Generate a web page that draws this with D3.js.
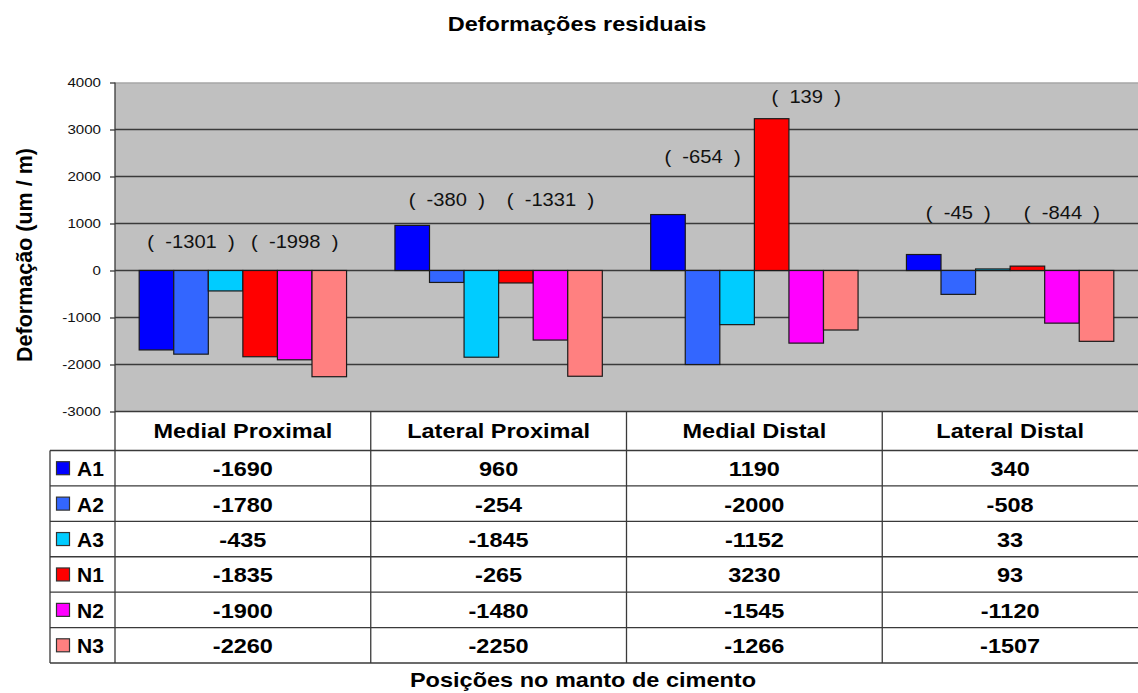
<!DOCTYPE html>
<html>
<head>
<meta charset="utf-8">
<script src="https://cdn.jsdelivr.net/npm/d3@7"></script>
<style>
  html, body { margin: 0; padding: 0; background: #fff; }
  svg { display: block; font-family: "Liberation Sans", Arial, sans-serif; }
  /* glyphs are drawn slightly wide */
  .sx  { transform-box: fill-box; transform-origin: 50% 50%;  transform: scaleX(1.12); }
  .sxe { transform-box: fill-box; transform-origin: 100% 50%; transform: scaleX(1.12); }
  .pre { white-space: pre; }
</style>
</head>
<body>
<script>
// ---- data ----
const categories = ["Medial Proximal", "Lateral Proximal", "Medial Distal", "Lateral Distal"];
const seriesNames = ["A1", "A2", "A3", "N1", "N2", "N3"];
const seriesColors = ["#0000FF", "#3366FF", "#00CCFF", "#FF0000", "#FF00FF", "#FF8080"];
const A1 = [-1690, 960, 1190, 340];
const A2 = [-1780, -254, -2000, -508];
const A3 = [-435, -1845, -1152, 33];
const N1 = [-1835, -265, 3230, 93];
const N2 = [-1900, -1480, -1545, -1120];
const N3 = [-2260, -2250, -1266, -1507];
const yTicks = [-3000, -2000, -1000, 0, 1000, 2000, 3000, 4000];
// group means (A group, N group) per position, and the height they are written at
const groupMeans = [[-1301, -1998], [-380, -1331], [-654, 139], [-45, -844]];
const meanLevels = [[470, 470], [1380, 1380], [2290, 3570], [1100, 1100]];

const values = [A1, A2, A3, N1, N2, N3];

// ---- layout ----
const W = 1138, H = 693;
const plot = { left: 115, right: 1138, top: 82.5, bottom: 411.5 };
const table = { header: 450.5, bottom: 663, legendLeft: 50 };
const rowH = (table.bottom - table.header) / seriesNames.length;
const gridColor = "#3a3a3a";

const svg = d3.select("body").append("svg").attr("width", W).attr("height", H);

const x = d3.scaleBand().domain(categories).range([plot.left, plot.right]);
const barW = x.bandwidth() / (seriesNames.length + 1.4);
const groupOffset = (x.bandwidth() - barW * seriesNames.length) / 2;
const xs = d3.scaleBand().domain(seriesNames)
  .range([groupOffset, groupOffset + barW * seriesNames.length]);
const y = d3.scaleLinear().domain([-3000, 4000]).range([plot.bottom, plot.top]);

// plot background
svg.append("rect")
  .attr("x", plot.left).attr("y", plot.top)
  .attr("width", plot.right - plot.left).attr("height", plot.bottom - plot.top)
  .attr("fill", "#C0C0C0");
svg.append("line")
  .attr("x1", plot.left).attr("x2", plot.right)
  .attr("y1", plot.top + 0.5).attr("y2", plot.top + 0.5)
  .attr("stroke", "#9a9a9a").attr("stroke-width", 1.2);

// gridlines
svg.append("g").selectAll("line").data(yTicks.filter(t => t !== 4000)).join("line")
  .attr("x1", plot.left).attr("x2", plot.right)
  .attr("y1", d => y(d)).attr("y2", d => y(d))
  .attr("stroke", gridColor).attr("stroke-width", 1.3);

// bars
const bars = [];
categories.forEach((c, ci) => seriesNames.forEach((s, si) =>
  bars.push({ c, s, v: values[si][ci], color: seriesColors[si] })));
svg.append("g").selectAll("rect").data(bars).join("rect")
  .attr("x", d => x(d.c) + xs(d.s))
  .attr("width", barW)
  .attr("y", d => y(Math.max(0, d.v)))
  .attr("height", d => Math.abs(y(d.v) - y(0)))
  .attr("fill", d => d.color)
  .attr("stroke", "#1a1a1a").attr("stroke-width", 1.2);

// y axis
const yAxis = svg.append("g").attr("transform", `translate(${plot.left},0)`)
  .call(d3.axisLeft(y).tickValues(yTicks).tickSize(5).tickPadding(9).tickFormat(d => String(d)));
yAxis.select(".domain").remove();
yAxis.selectAll(".tick line").attr("stroke", gridColor).attr("stroke-width", 1.3);
yAxis.selectAll(".tick text")
  .attr("class", "sxe")
  .attr("font-size", 13.5).attr("fill", "#111")
  .attr("font-family", "'Liberation Sans', Arial, sans-serif");
svg.append("line")
  .attr("x1", plot.left).attr("x2", plot.left)
  .attr("y1", plot.top).attr("y2", table.bottom)
  .attr("stroke", gridColor).attr("stroke-width", 1.3);

// group mean notes
const notes = [];
categories.forEach((c, ci) => groupMeans[ci].forEach((m, gi) => notes.push({
  c, m, level: meanLevels[ci][gi],
  cx: x(c) + xs(seriesNames[gi * 3]) + barW * 1.5
})));
svg.append("g").selectAll("text").data(notes).join("text")
  .attr("class", "sx pre")
  .attr("x", d => d.cx).attr("y", d => y(d.level))
  .attr("text-anchor", "middle")
  .attr("font-size", 18).attr("fill", "#111")
  .text(d => `(  ${d.m}  )`);

// data table
const tg = svg.append("g");
// horizontal rules
tg.append("line")
  .attr("x1", table.legendLeft).attr("x2", plot.right)
  .attr("y1", table.header).attr("y2", table.header)
  .attr("stroke", gridColor).attr("stroke-width", 1.3);
seriesNames.forEach((s, i) => {
  const yy = table.header + rowH * (i + 1);
  tg.append("line")
    .attr("x1", table.legendLeft).attr("x2", plot.right)
    .attr("y1", yy).attr("y2", yy)
    .attr("stroke", gridColor).attr("stroke-width", 1.3);
});
// vertical rules
tg.append("line")
  .attr("x1", table.legendLeft).attr("x2", table.legendLeft)
  .attr("y1", table.header).attr("y2", table.bottom)
  .attr("stroke", gridColor).attr("stroke-width", 1.3);
categories.slice(1).forEach(c => {
  tg.append("line")
    .attr("x1", x(c)).attr("x2", x(c))
    .attr("y1", plot.bottom).attr("y2", table.bottom)
    .attr("stroke", gridColor).attr("stroke-width", 1.3);
});
// column headers
tg.selectAll("text.hdr").data(categories).join("text")
  .attr("class", "hdr sx")
  .attr("x", d => x(d) + x.bandwidth() / 2)
  .attr("y", (plot.bottom + table.header) / 2 + 7.5)
  .attr("text-anchor", "middle")
  .attr("font-size", 21).attr("font-weight", "bold").attr("fill", "#000")
  .text(d => d);
// legend column
seriesNames.forEach((s, i) => {
  const cy = table.header + rowH * (i + 0.5);
  tg.append("rect")
    .attr("x", 56.5).attr("y", cy - 6.5)
    .attr("width", 13).attr("height", 13)
    .attr("fill", seriesColors[i]).attr("stroke", "#333").attr("stroke-width", 1.2);
  tg.append("text")
    .attr("x", 77).attr("y", cy + 8)
    .attr("font-size", 21).attr("font-weight", "bold").attr("fill", "#000")
    .text(s);
  categories.forEach((c, ci) => {
    tg.append("text")
      .attr("class", "sx")
      .attr("x", x(c) + x.bandwidth() / 2)
      .attr("y", cy + 8)
      .attr("text-anchor", "middle")
      .attr("font-size", 21).attr("font-weight", "bold").attr("fill", "#000")
      .text(values[i][ci]);
  });
});

// titles
svg.append("text")
  .attr("class", "sx")
  .attr("x", 577).attr("y", 31)
  .attr("text-anchor", "middle")
  .attr("font-size", 21).attr("font-weight", "bold").attr("fill", "#000")
  .text("Deformações residuais");
svg.append("text")
  .attr("class", "sx")
  .attr("x", 583).attr("y", 687)
  .attr("text-anchor", "middle")
  .attr("font-size", 21).attr("font-weight", "bold").attr("fill", "#000")
  .text("Posições no manto de cimento");
svg.append("text")
  .attr("transform", "translate(32,255) rotate(-90)")
  .attr("text-anchor", "middle")
  .attr("font-size", 21.5).attr("font-weight", "bold").attr("fill", "#000")
  .text("Deformação (um / m)");
</script>
</body>
</html>
